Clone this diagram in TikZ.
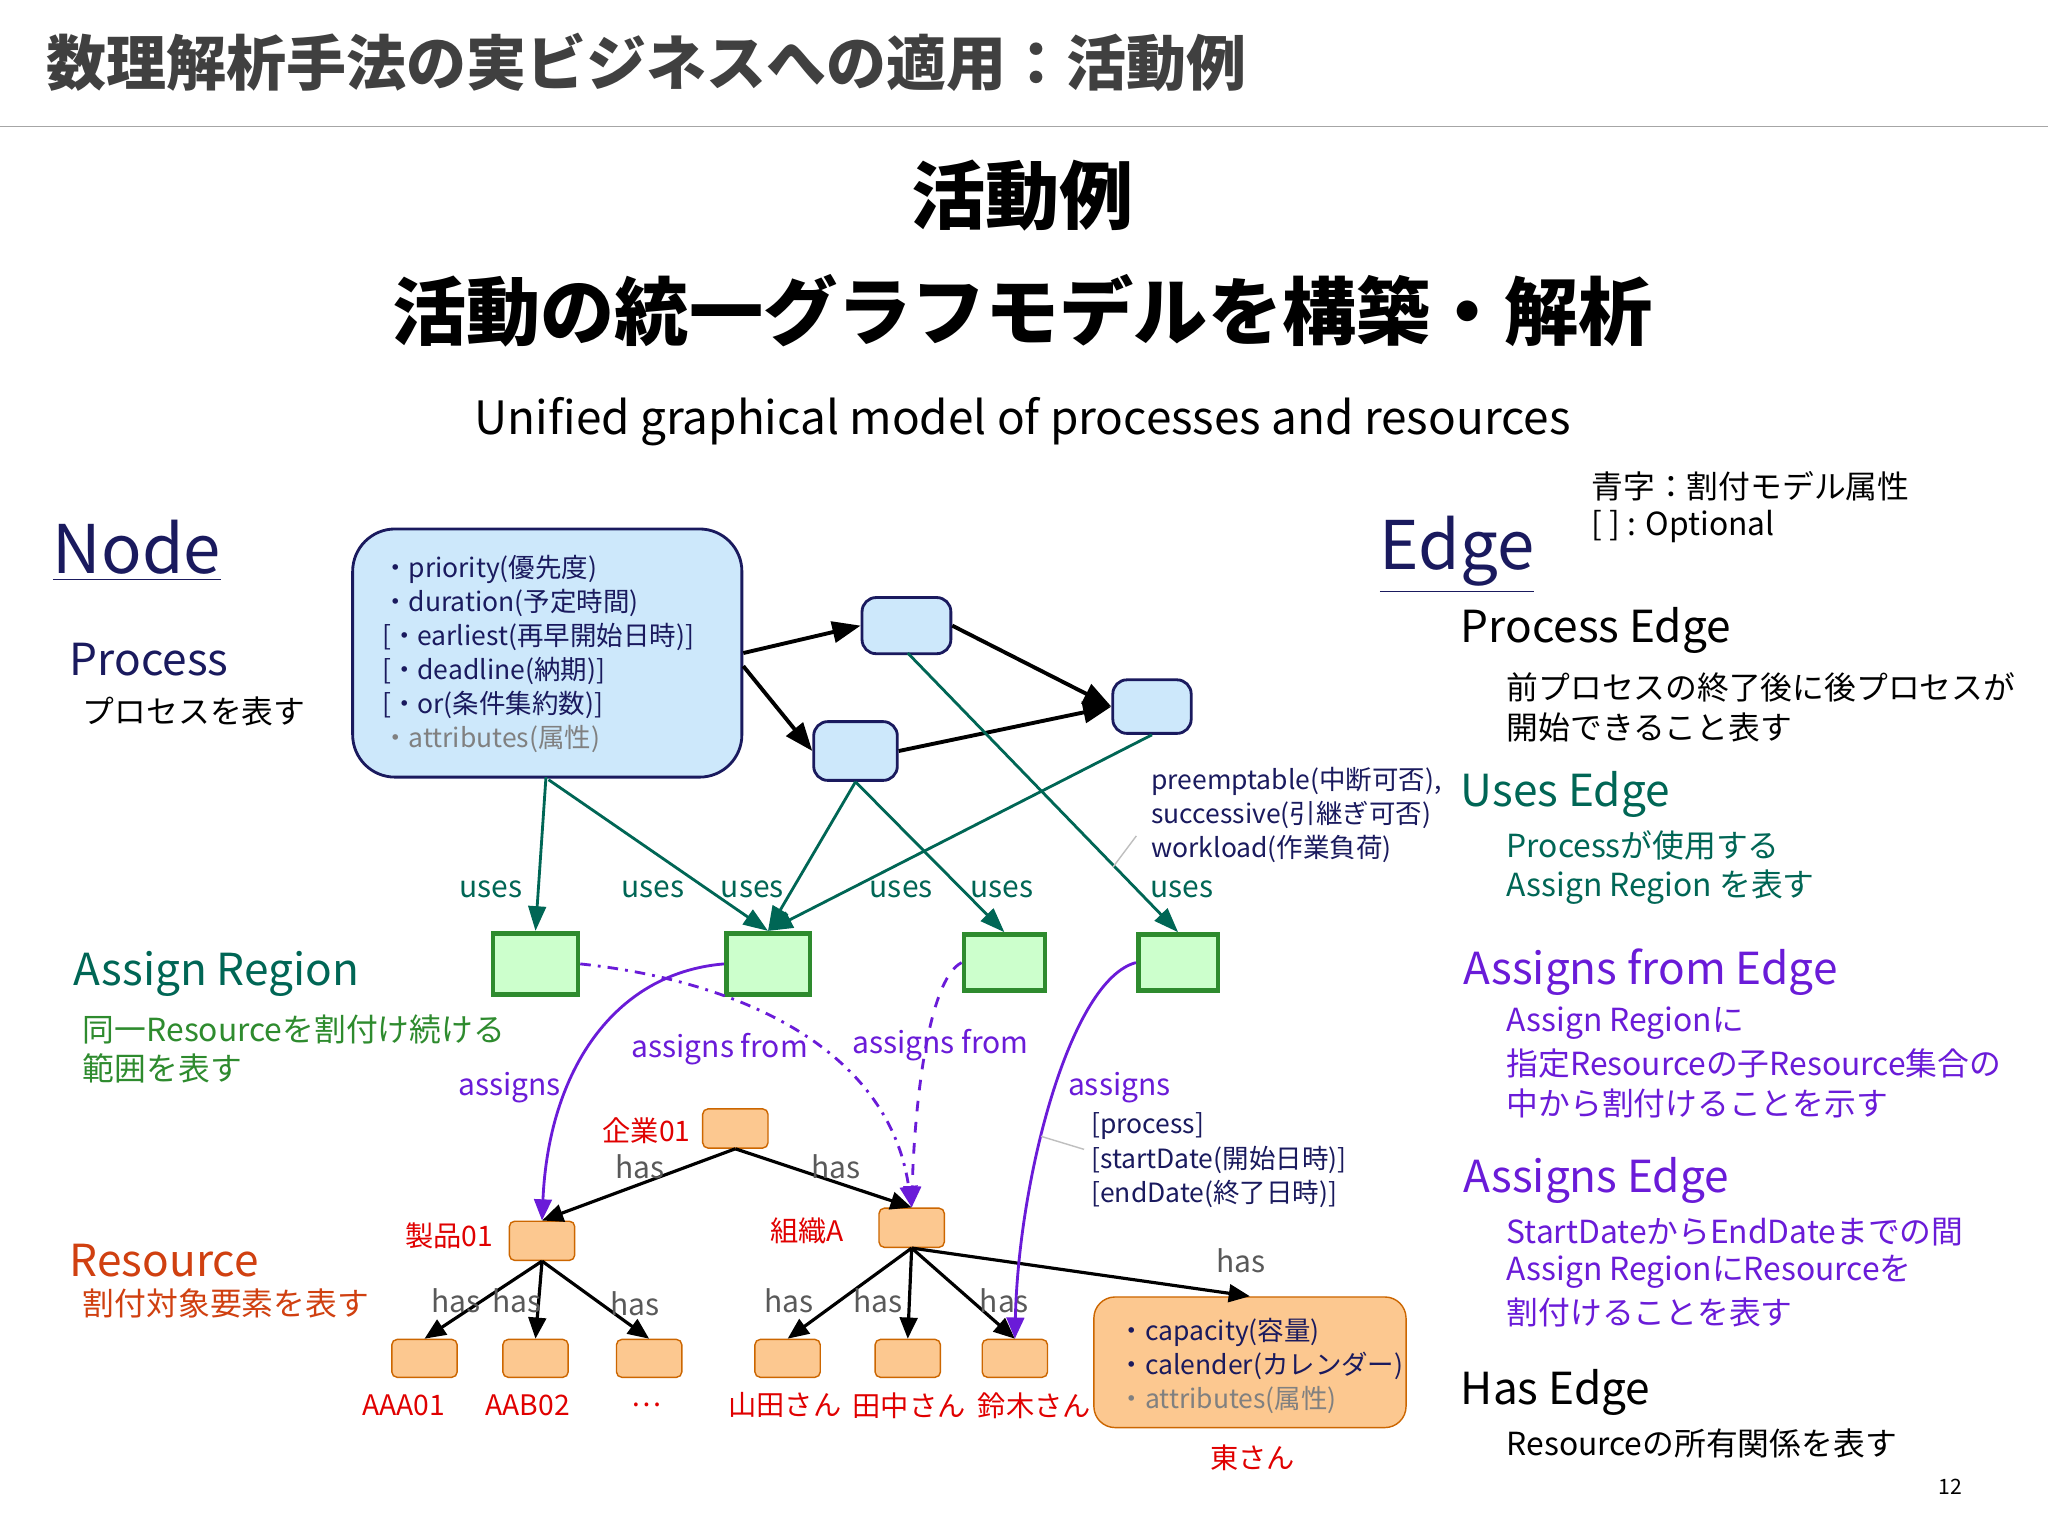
\documentclass[tikz,border=0pt]{standalone}
\usepackage{fontspec}
\setmainfont{Noto Sans CJK JP}
\usetikzlibrary{arrows.meta}
\definecolor{navy}{HTML}{1A1A5E}
\definecolor{teal2}{HTML}{006655}
\definecolor{grn}{HTML}{2E8B2E}
\definecolor{purp}{HTML}{6A1BD8}
\definecolor{rred}{HTML}{E00000}
\definecolor{rsrc}{HTML}{D04010}
\definecolor{pblue}{HTML}{CDE8FB}
\definecolor{agreen}{HTML}{CCFFCC}
\definecolor{rorange}{HTML}{FCC890}
\begin{document}
\begin{tikzpicture}[x=0.013cm,y=-0.013cm,
  w/.style={minimum width=#1*0.013cm},
  h/.style={minimum height=#1*0.013cm},
  lab/.style={anchor=west,inner sep=0pt},
  small/.style={lab,font=\fontsize{7.5}{10}\selectfont},
  desc/.style={lab,font=\fontsize{9}{11}\selectfont},
  head/.style={lab,font=\fontsize{12.5}{15}\selectfont},
  proc/.style={draw=navy,thick,fill=pblue,rounded corners=4pt,inner sep=0pt},
  areg/.style={draw=grn,line width=1.3pt,fill=agreen,inner sep=0pt},
  res/.style={draw=orange!80!black,fill=rorange,rounded corners=1.5pt,inner sep=0pt},
  pe/.style={-{Triangle[length=8pt,width=6pt]},line width=1.1pt},
  ue/.style={-{Triangle[length=7pt,width=5pt]},teal2,line width=0.8pt},
  ae/.style={-{Triangle[length=6pt,width=5pt]},purp,line width=0.8pt},
  he/.style={-{Triangle[length=6pt,width=5pt]},line width=0.9pt},
  el/.style={font=\fontsize{8.5}{10}\selectfont},
  rl/.style={font=\fontsize{8}{10}\selectfont,text=rred}]
\useasboundingbox (0,0) rectangle (1568,1176);
\fill[white] (0,0) rectangle (1568,1176);
% header
\node[lab,font=\bfseries\fontsize{17}{20}\selectfont,text=black!75] (t0) at (35,48) {数理解析手法の実ビジネスへの適用：活動例};
\draw[gray!70] (0,97) -- (1568,97);
\node[font=\bfseries\fontsize{21}{24}\selectfont] (t1) at (783,150) {活動例};
\node[font=\bfseries\fontsize{21}{24}\selectfont] (t2) at (783,238) {活動の統一グラフモデルを構築・解析};
\node[font=\fontsize{13}{15}\selectfont] (t3) at (783,323) {Unified graphical model of processes and resources};
\node[desc] (n1) at (1218,372) {青字：割付モデル属性};
\node[desc] (n2) at (1218,403) {[ ] : Optional};
\node[lab,font=\fontsize{19}{22}\selectfont,text=navy] (node) at (40,422) {\underline{Node}};
\node[lab,font=\fontsize{19}{22}\selectfont,text=navy] (edge) at (1056,425) {\underline{Edge}};
% left labels
\node[head,text=navy] (lp) at (53,505) {Process};
\node[desc] (lp2) at (63,545) {プロセスを表す};
\node[head,text=teal2] (la) at (56,746) {Assign Region};
\node[desc,text=grn] (la2) at (63,788) {同一Resourceを割付け続ける};
\node[desc,text=grn] (la3) at (63,818) {範囲を表す};
\node[head,text=rsrc] (lr) at (53,965) {Resource};
\node[desc,text=rsrc] (lr2) at (63,998) {割付対象要素を表す};
% processes
\node[proc,rounded corners=12pt,w=298,h=190] (big) at (419,500) {};
\foreach \t [count=\i] in {・priority(優先度),・duration(予定時間),[・earliest(再早開始日時)],[・deadline(納期)],[・or(条件集約数)]}
  \node[small,text=navy] at (292,410+26*\i) {\t};
\node[small,text=gray] at (292,566) {・attributes(属性)};
\node[proc,w=68,h=43] (p1) at (694,479) {};
\node[proc,w=64,h=45] (p2) at (655,575) {};
\node[proc,w=60,h=41] (p3) at (882,541) {};
\draw[pe] (big.east |- 0,500) -- (p1.west);
\draw[pe] (big.east |- 0,510) -- (p2.west);
\draw[pe] (p1.east) -- (p3.west);
\draw[pe] (p2.east) -- (p3.west);
% assign regions
\node[areg,w=65,h=47] (a1) at (410,738) {};
\node[areg,w=64,h=47] (a2) at (588,738) {};
\node[areg,w=62,h=43] (a3) at (769,737) {};
\node[areg,w=61,h=43] (a4) at (902,737) {};
% uses
\draw[ue] (418,595) -- (a1.north);
\draw[ue] (420,597) -- (a2.north);
\draw[ue] (p2.south) -- (a2.north);
\draw[ue] (p3.south) -- (a2.north);
\draw[ue] (p2.south) -- (a3.north);
\draw[ue] (695,500) -- (a4.north);
\foreach \x in {376,500,576,690,767,905}
  \node[el,text=teal2] at (\x,681) {uses};
\node[small,text=navy] (u1) at (881,598) {preemptable(中断可否),};
\node[small,text=navy] (u2) at (881,624) {successive(引継ぎ可否)};
\node[small,text=navy] (u3) at (881,650) {workload(作業負荷)};
\draw[gray!50] (852,664) -- (870,640);
% resources
\node[res,w=50,h=30] (r0) at (563,864) {};
\node[res,w=50,h=30] (r1) at (415,950) {};
\node[res,w=50,h=30] (r2) at (698,940) {};
\foreach \x/\n in {325/l1,410/l2,497/l3,603/l4,695/l5,777/l6}
  \node[res,w=50,h=29] (\n) at (\x,1040) {};
\node[res,rounded corners=6pt,w=239,h=100] (cap) at (957,1043) {};
\node[small,text=navy] at (856,1020) {・capacity(容量)};
\node[small,text=navy] at (856,1046) {・calender(カレンダー)};
\node[small,text=gray] at (856,1072) {・attributes(属性)};
\node[rl] at (495,866) {企業01};
\node[rl] at (344,946) {製品01};
\node[rl] at (618,942) {組織A};
\node[rl] at (309,1076) {AAA01};
\node[rl] at (404,1076) {AAB02};
\node[rl] at (495,1076) {…};
\node[rl] at (601,1076) {山田さん};
\node[rl] at (696,1076) {田中さん};
\node[rl] at (792,1076) {鈴木さん};
\node[rl] at (959,1116) {東さん};
% has
\draw[he] (r0.south) -- (r1.north);
\draw[he] (r0.south) -- (r2.north);
\foreach \n in {l1,l2,l3} \draw[he] (r1.south) -- (\n.north);
\foreach \n in {l4,l5,l6} \draw[he] (r2.south) -- (\n.north);
\draw[he] (r2.south) -- (cap.north);
\foreach \x/\y in {490/893,640/893,349/996,396/996,486/998,604/996,672/996,769/996,950/965}
  \node[el,text=black!65] at (\x,\y) {has};
% assigns
\draw[ae] (a2.west) .. controls (470,745) and (420,820) .. (r1.north);
\draw[ae] (a4.west) .. controls (820,750) and (780,900) .. (l6.north);
\draw[ae,dash dot] (a1.east) .. controls (560,750) and (680,800) .. (r2.north);
\draw[ae,dashed] (a3.west) .. controls (710,750) and (700,850) .. (r2.north);
\node[el,text=purp] at (390,833) {assigns};
\node[el,text=purp] at (857,833) {assigns};
\node[el,text=purp] at (551,803) {assigns from};
\node[el,text=purp] at (720,800) {assigns from};
\node[small,text=navy] at (835,862) {[process]};
\node[small,text=navy] at (835,888) {[startDate(開始日時)]};
\node[small,text=navy] at (835,914) {[endDate(終了日時)]};
\draw[gray!50] (797,870) -- (830,880);
% right legend
\node[head] at (1118,483) {Process Edge};
\node[desc] at (1153,526) {前プロセスの終了後に後プロセスが};
\node[desc] at (1153,557) {開始できること表す};
\node[head,text=teal2] at (1118,608) {Uses Edge};
\node[desc,text=teal2] at (1153,647) {Processが使用する};
\node[desc,text=teal2] at (1153,679) {Assign Region を表す};
\node[head,text=purp] at (1120,744) {Assigns from Edge};
\node[desc,text=purp] at (1153,783) {Assign Regionに};
\node[desc,text=purp] at (1153,814) {指定Resourceの子Resource集合の};
\node[desc,text=purp] at (1153,845) {中から割付けることを示す};
\node[head,text=purp] at (1120,904) {Assigns Edge};
\node[desc,text=purp] at (1153,943) {StartDateからEndDateまでの間};
\node[desc,text=purp] at (1153,974) {Assign RegionにResourceを};
\node[desc,text=purp] at (1153,1005) {割付けることを表す};
\node[head] at (1118,1066) {Has Edge};
\node[desc] at (1153,1105) {Resourceの所有関係を表す};
\node[font=\fontsize{6}{7}\selectfont] at (1493,1138) {12};
\end{tikzpicture}
\end{document}
